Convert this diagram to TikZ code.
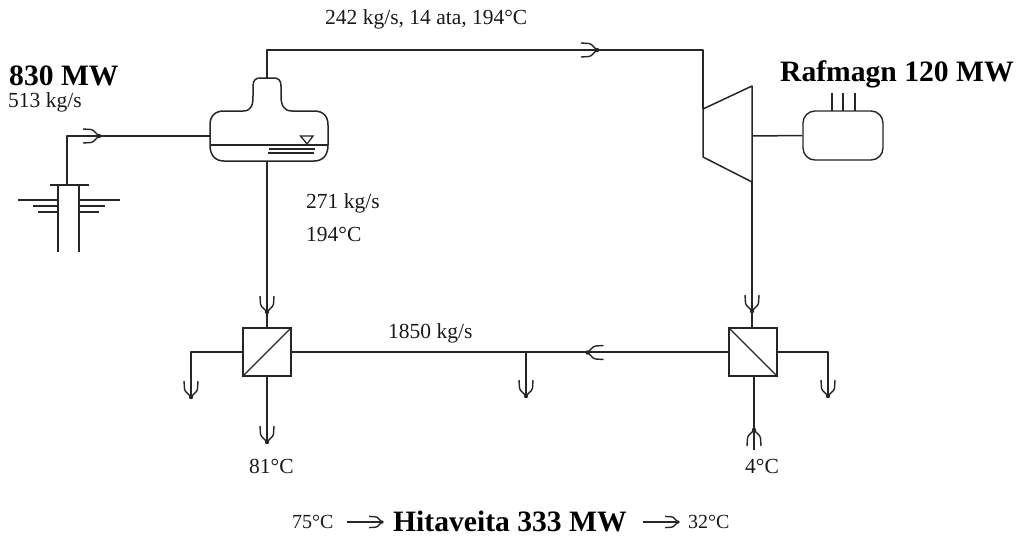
\documentclass[tikz,border=0pt]{standalone}
\usepackage{fontspec}
\setmainfont{Liberation Serif}
\tikzset{
  x=1pt,y=-1pt,
  pipe/.style={line width=1.5pt,draw=black!85,line join=round},
  thin pipe/.style={line width=1.3pt,draw=black!85},
  hxbox/.style={draw=black!85,line width=1.6pt,minimum width=48pt,minimum height=48pt,inner sep=0pt,fill=white},
  genbox/.style={draw=black!85,line width=1.4pt,minimum width=80pt,minimum height=49pt,rounded corners=12pt,inner sep=0pt,fill=white},
  lbl/.style={inner sep=0pt,text=black!90,font=\fontsize{21.5}{24}\selectfont},
  botlbl/.style={inner sep=0pt,text=black!90,font=\fontsize{20}{22}\selectfont},
  big/.style={inner sep=0pt,text=black,font=\bfseries\fontsize{29.6}{31}\selectfont},
  flowhead/.pic={
    \fill[black!85] (0,0) circle (2.2pt);
    \draw[line width=1.4pt,draw=black!85] (1,0) .. controls (-2,0.5) and (-5,6.5) .. (-8,6.5) -- (-16,7);
    \draw[line width=1.4pt,draw=black!85] (1,0) .. controls (-2,-0.5) and (-5,-6.5) .. (-8,-6.5) -- (-16,-7);
  }
}
\begin{document}
\begin{tikzpicture}
\useasboundingbox (0,0) rectangle (1016,536);
% anchors
\coordinate (septop) at (267,78);
\coordinate (sepin) at (210,136);
\coordinate (sepbot) at (267,161);
\coordinate (corner) at (703,50);
\coordinate (turbin) at (703,109);
\coordinate (turbout) at (752,182);
\coordinate (turbshaft) at (752,136);
\coordinate (wellhead) at (67,185);
\node[genbox] (gen) at (843,135.5) {};
\node[hxbox] (hxa) at (267,352) {};
\node[hxbox] (hxb) at (753,352) {};
\coordinate (exitl) at (191,398);
\coordinate (exitm) at (267,443);
\coordinate (exitr) at (828,396);
\coordinate (branch) at (526,352);
\coordinate (branchend) at (526,396);
\coordinate (cold) at (754,450);
\coordinate (coldtip) at (754,430);
% separator
\draw[pipe] (210,145) -- (210,125) .. controls (210,116) and (215,111) .. (224,111) -- (243,111)
  .. controls (252,111) and (253,104) .. (253,96) -- (253,86) .. controls (253,80) and (256,78) .. (260,78)
  -- (274,78) .. controls (278,78) and (281,80) .. (281,86) -- (281,96)
  .. controls (281,104) and (283,111) .. (292,111) -- (314,111) .. controls (323,111) and (328,116) .. (328,125)
  -- (328,145) .. controls (328,155) and (323,161) .. (314,161) -- (224,161) .. controls (215,161) and (210,155) .. (210,145) -- cycle;
\draw[pipe] (210,145) -- (328,145);
\draw[thin pipe] (269,149) -- (315,149) (268,153) -- (314,153);
\draw[thin pipe] (300.5,136) -- (313,136) -- (307,144) -- cycle;
% turbine
\draw[pipe] (turbin) -- (752,86) -- (752,182) -- (703,157) -- cycle;
% top steam line
\draw[pipe] (septop) |- (corner) -- (turbin);
\pic[rotate=0] at (597,50) {flowhead};
% well
\draw[pipe] (sepin) -- (67,136) -- (wellhead);
\pic[rotate=0] at (99,136) {flowhead};
\draw[pipe] (50,185) -- (89,185) (58,185) -- (58,252) (79,185) -- (79,252);
\draw[thin pipe] (18,200) -- (58,200) (79,200) -- (120,200);
\draw[thin pipe] (33,206) -- (58,206) (79,206) -- (105,206);
\draw[thin pipe] (38,212) -- (58,212) (79,212) -- (99,212);
% generator
\draw[pipe] (turbshaft) -- (gen.west);
\draw[thin pipe] (832,93) -- (832,111) (843,93) -- (843,111) (855,93) -- (855,111);
% pipes
\draw[pipe] (sepbot) -- (hxa.north);
\pic[rotate=-90] at (267,312) {flowhead};
\draw[pipe] (turbout) -- (752,328);
\pic[rotate=-90] at (752,311) {flowhead};
\draw[pipe] (hxa.east) -- (hxb.west);
\pic[rotate=180] at (587.5,352.5) {flowhead};
\draw[pipe] (branch) -- (branchend);
\pic[rotate=-90] at (526,396) {flowhead};
\draw[pipe] (hxa.west) -| (exitl);
\pic[rotate=-90] at (191,397) {flowhead};
\draw[pipe] (hxa.south) -- (exitm);
\pic[rotate=-90] at (267,442) {flowhead};
\draw[pipe] (hxb.east) -| (exitr);
\pic[rotate=-90] at (828,396) {flowhead};
\draw[pipe] (hxb.south -| cold) -- (cold);
\pic[rotate=90] at (coldtip) {flowhead};
% exchanger diagonals
\draw[line width=1.2pt,draw=black!85] (hxa.south west) -- (hxa.north east);
\draw[line width=1.2pt,draw=black!85] (hxb.north west) -- (hxb.south east);
% bottom arrows
\coordinate (aa) at (347,522);
\coordinate (ab) at (382,522);
\coordinate (ba) at (643,522);
\coordinate (bb) at (678,522);
\draw[pipe] (aa) -- (ab);
\pic[scale=0.8] at (ab) {flowhead};
\draw[pipe] (ba) -- (bb);
\pic[scale=0.8] at (bb) {flowhead};
% labels
\node[lbl,anchor=base west] (t1) at (325,24) {242 kg/s, 14 ata, 194°C};
\node[big,anchor=base west] (t2) at (9,85) {830 MW};
\node[lbl,anchor=base west] (t3) at (8,107.5) {513 kg/s};
\node[lbl,anchor=base west] (t4) at (306,208) {271 kg/s};
\node[lbl,anchor=base west] (t5) at (306,241) {194°C};
\node[big,anchor=base west] (t6) at (780,81) {Rafmagn 120 MW};
\node[lbl,anchor=base west] (t7) at (388,338) {1850 kg/s};
\node[lbl,anchor=base west] (t8) at (249,473) {81°C};
\node[lbl,anchor=base west] (t9) at (745,473) {4°C};
\node[botlbl,anchor=base west] (t10) at (292,528) {75°C};
\node[big,anchor=base west] (t11) at (393,531) {Hitaveita 333 MW};
\node[botlbl,anchor=base west] (t12) at (688,528) {32°C};
\end{tikzpicture}
\end{document}
